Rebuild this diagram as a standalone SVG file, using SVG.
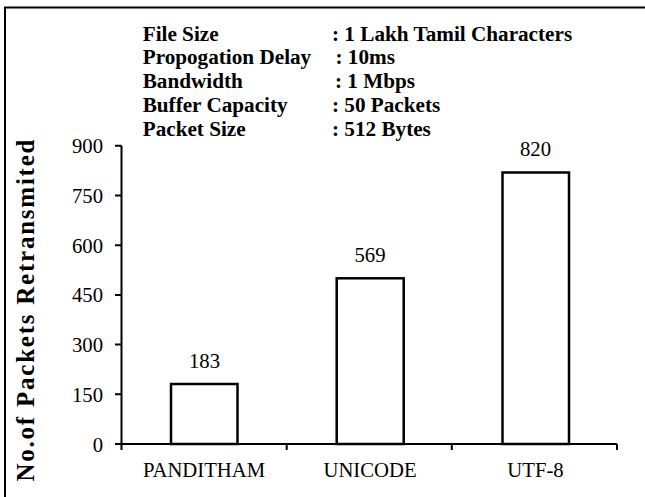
<svg xmlns="http://www.w3.org/2000/svg" width="645" height="497" viewBox="0 0 645 497" font-family="'Liberation Serif', 'DejaVu Serif', serif">
<style>
text{font-family:'Liberation Serif','DejaVu Serif',serif;fill:#000}
.hd{font-size:21.2px;font-weight:bold}
.ax{font-size:20.7px}
.tk{text-anchor:end}
.mid{text-anchor:middle}
.ln{stroke:#000;stroke-width:2;fill:none}
.bar{stroke:#000;stroke-width:2.5;fill:#fff}
</style>
<rect width="645" height="497" fill="#fff"/>
<g id="frame"><path class="ln" d="M5,497 V7.5 H645" stroke-width="2.2"/></g>
<g id="header" class="hd">
<text x="142.7" y="40.7">File Size</text><text x="332" y="40.7">: 1 Lakh Tamil Characters</text>
<text x="142.7" y="64.3">Propogation Delay</text><text x="335.5" y="64.3">: 10ms</text>
<text x="142.7" y="88.3">Bandwidth</text><text x="335" y="88.3">: 1 Mbps</text>
<text x="142.7" y="112.3">Buffer Capacity</text><text x="332" y="112.3">: 50 Packets</text>
<text x="142.7" y="136">Packet Size</text><text x="332" y="136">: 512 Bytes</text>
</g>
<g id="y-title"><text class="mid" font-size="25" font-weight="bold" transform="translate(33.5,310.5) rotate(-90)" textLength="342" lengthAdjust="spacing">No.of Packets Retransmited</text></g>
<g id="y-axis">
<path class="ln" d="M121.5,145.7 V444 M115,145.7 H121.5 M115,195.5 H121.5 M115,245.2 H121.5 M115,294.9 H121.5 M115,344.6 H121.5 M115,394.3 H121.5 M115,444 H121.5"/>
<g class="ax tk">
<text x="103" y="153.2">900</text>
<text x="103" y="203">750</text>
<text x="103" y="252.7">600</text>
<text x="103" y="302.4">450</text>
<text x="103" y="352.1">300</text>
<text x="103" y="401.8">150</text>
<text x="103" y="451.5">0</text>
</g>
</g>
<g id="x-axis">
<path class="ln" d="M121.5,444 H617 M121.5,444 V450 M286.7,444 V450 M451.8,444 V450 M617,444 V450"/>
<g class="ax mid">
<text x="204" y="477">PANDITHAM</text>
<text x="370" y="477">UNICODE</text>
<text x="535.5" y="477">UTF-8</text>
</g>
</g>
<g id="bar-panditham"><rect class="bar" x="171" y="384" width="66.5" height="60"/><text class="ax mid" x="204.5" y="368.3">183</text></g>
<g id="bar-unicode"><rect class="bar" x="336.7" y="278.3" width="67" height="165.7"/><text class="ax mid" x="370" y="262.3">569</text></g>
<g id="bar-utf8"><rect class="bar" x="502.5" y="172.5" width="66.5" height="271.5"/><text class="ax mid" x="535.5" y="156">820</text></g>
</svg>
